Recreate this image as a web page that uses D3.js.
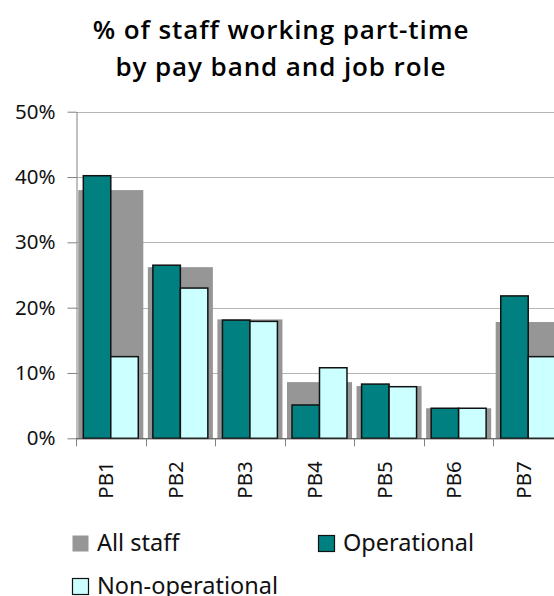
<!DOCTYPE html>
<html>
<head>
<meta charset="utf-8">
<script src="https://cdn.jsdelivr.net/npm/d3@7"></script>
<style>
  html, body { margin: 0; padding: 0; background: #fff; overflow: hidden; }
  svg { display: block; font-family: "Noto Sans", "Open Sans", sans-serif; }
</style>
</head>
<body>
<svg id="chart" width="554" height="596"></svg>
<script>
// chart data
const bands = ["PB1", "PB2", "PB3", "PB4", "PB5", "PB6", "PB7"];
const allStaff = [38.0, 26.2, 18.2, 8.6, 8.0, 4.6, 17.8];
const operational = [40.2, 26.5, 18.1, 5.1, 8.3, 4.6, 21.8];
const nonOperational = [12.5, 23.0, 17.9, 10.8, 7.9, 4.6, 12.5];
const yTicks = [0, 10, 20, 30, 40, 50];
const titleLines = ["% of staff working part-time", "by pay band and job role"];

const colors = {
  all: "#969696",
  op: "#008080",
  nonOp: "#ccffff",
};

const svg = d3.select("#chart");

// plot area (right edge runs past the window, as in the original)
const plotLeft = 76, plotRight = 563, plotTop = 111.7, plotBottom = 438.3;

const x = d3.scaleBand().domain(bands).range([plotLeft, plotRight]).padding(0);
const y = d3.scaleLinear().domain([0, 50]).range([plotBottom, plotTop]);

const bw = x.bandwidth();
const pairWidth = bw * 0.79;
const sub = d3
  .scaleBand()
  .domain(["op", "nonOp"])
  .range([(bw - pairWidth) / 2, (bw + pairWidth) / 2])
  .padding(0);
const grayWidth = bw * 0.935;

// Title
svg
  .append("g")
  .selectAll("text")
  .data(titleLines)
  .enter()
  .append("text")
  .attr("x", 281)
  .attr("y", (d, i) => 38.5 + i * 37.5)
  .attr("text-anchor", "middle")
  .attr("font-family", "'Open Sans', 'Noto Sans', sans-serif")
  .attr("font-size", 26)
  .attr("font-weight", 600)
  .attr("letter-spacing", 0.9)
  .attr("fill", "#000")
  .text((d) => d);

// gridlines
svg
  .append("g")
  .selectAll("line")
  .data(yTicks.filter((t) => t > 0))
  .enter()
  .append("line")
  .attr("x1", plotLeft)
  .attr("x2", plotRight)
  .attr("y1", (d) => Math.round(y(d)) + 0.5)
  .attr("y2", (d) => Math.round(y(d)) + 0.5)
  .attr("stroke", "#b4b4b4")
  .attr("stroke-width", 1);

// All staff (background bars)
svg
  .append("g")
  .selectAll("rect")
  .data(allStaff)
  .enter()
  .append("rect")
  .attr("x", (d, i) => x(bands[i]) + (bw - grayWidth) / 2)
  .attr("width", grayWidth)
  .attr("y", (d) => y(d))
  .attr("height", (d) => plotBottom - y(d))
  .attr("fill", colors.all);

// Operational / Non-operational
const series = [
  { key: "op", values: operational },
  { key: "nonOp", values: nonOperational },
];
series.forEach((s) => {
  svg
    .append("g")
    .selectAll("rect")
    .data(s.values)
    .enter()
    .append("rect")
    .attr("x", (d, i) => x(bands[i]) + sub(s.key))
    .attr("width", sub.bandwidth())
    .attr("y", (d) => y(d))
    .attr("height", (d) => plotBottom - y(d))
    .attr("fill", colors[s.key])
    .attr("stroke", "#111")
    .attr("stroke-width", 1.5);
});

// Y axis
const yAxis = d3
  .axisLeft(y)
  .tickValues(yTicks)
  .tickFormat((d) => d + "%")
  .tickSize(9)
  .tickSizeOuter(0)
  .tickPadding(12);
const yg = svg
  .append("g")
  .attr("transform", `translate(${plotLeft + 0.5},0)`)
  .call(yAxis);
yg.selectAll("line, path").attr("stroke", "#808080");
yg.selectAll("text")
  .attr("font-size", 20.5)
  .attr("fill", "#111")
  .attr("font-family", "Noto Sans");

// X axis line + boundary ticks
const xg = svg.append("g");
xg.append("line")
  .attr("x1", plotLeft)
  .attr("x2", plotRight)
  .attr("y1", plotBottom + 0.5)
  .attr("y2", plotBottom + 0.5)
  .attr("stroke", "#333");
xg.selectAll("line.tick")
  .data(bands.concat(["end"]))
  .enter()
  .append("line")
  .attr("class", "tick")
  .attr("x1", (d, i) => Math.round(plotLeft + i * bw) + 0.5)
  .attr("x2", (d, i) => Math.round(plotLeft + i * bw) + 0.5)
  .attr("y1", plotBottom)
  .attr("y2", plotBottom + 8)
  .attr("stroke", "#808080");
xg.selectAll("text")
  .data(bands)
  .enter()
  .append("text")
  .attr(
    "transform",
    (d) => `translate(${x(d) + bw / 2 + 2.5},${plotBottom + 23}) rotate(-90)`
  )
  .attr("text-anchor", "end")
  .attr("font-size", 20.5)
  .attr("fill", "#111")
  .text((d) => d);

// Legend
const legendItems = [
  { label: "All staff", color: colors.all, stroke: "none", x: 72, y: 535 },
  { label: "Operational", color: colors.op, stroke: "#111", x: 318, y: 535 },
  { label: "Non-operational", color: colors.nonOp, stroke: "#111", x: 72, y: 578 },
];
const lg = svg
  .append("g")
  .selectAll("g")
  .data(legendItems)
  .enter()
  .append("g")
  .attr("transform", (d) => `translate(${d.x},${d.y})`);
lg.append("rect")
  .attr("x", 0.5)
  .attr("y", 0.5)
  .attr("width", 16)
  .attr("height", 16)
  .attr("fill", (d) => d.color)
  .attr("stroke", (d) => d.stroke)
  .attr("stroke-width", 1.2);
lg.append("text")
  .attr("x", 25)
  .attr("y", 16)
  .attr("font-size", 23.5)
  .attr("fill", "#111")
  .text((d) => d.label);
</script>
</body>
</html>
